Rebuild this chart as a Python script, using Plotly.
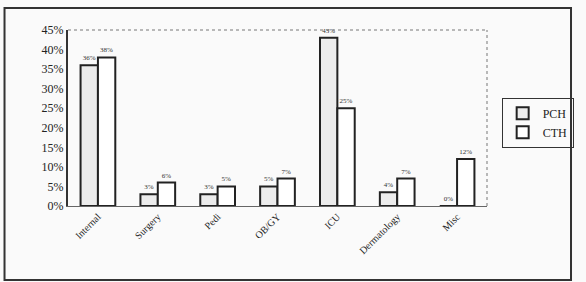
import plotly.graph_objects as go

categories = ["Internal", "Surgery", "Pedi", "OB/GY", "ICU", "Dermatology", "Misc"]
pch = [36, 3, 3, 5, 43, 3.5, 0]
cth = [38, 6, 5, 7, 25, 7, 12]
pch_labels = ["36%", "3%", "3%", "5%", "43%", "4%", "0%"]
cth_labels = ["38%", "6%", "5%", "7%", "25%", "7%", "12%"]
y_ticks = [0, 5, 10, 15, 20, 25, 30, 35, 40, 45]

serif = "Liberation Serif"

fig = go.Figure()
fig.add_bar(name="PCH", x=categories, y=pch, text=pch_labels, textposition="outside",
            cliponaxis=False,
            textfont=dict(size=7, family=serif, color="#333"),
            marker=dict(color="#ececec", line=dict(color="#222", width=2)))
fig.add_bar(name="CTH", x=categories, y=cth, text=cth_labels, textposition="outside",
            cliponaxis=False,
            textfont=dict(size=7, family=serif, color="#333"),
            marker=dict(color="white", line=dict(color="#222", width=2)))

fig.update_layout(
    width=586, height=282,
    margin=dict(l=68, r=89, t=30, b=76),
    paper_bgcolor="#fafafa", plot_bgcolor="#fafafa",
    barmode="group", bargap=0.42, bargroupgap=0.0,
    font=dict(family=serif, color="#222"),
    showlegend=True,
    legend=dict(x=1.035, y=0.615, xanchor="left", yanchor="top",
                bordercolor="#333", borderwidth=1, bgcolor="rgba(0,0,0,0)",
                font=dict(size=12, family=serif), itemsizing="constant",
                itemwidth=30, tracegroupgap=0),
    xaxis=dict(tickangle=-45, tickfont=dict(size=10, family=serif),
               showline=True, linecolor="#666", linewidth=1, mirror=False,
               ticks=""),
    yaxis=dict(range=[0, 45], tickvals=y_ticks,
               ticktext=[f"{v}%" for v in y_ticks],
               tickfont=dict(size=12, family=serif),
               showgrid=False, zeroline=False, showline=True,
               linecolor="#333", linewidth=2, ticks=""),
    uniformtext=dict(minsize=6, mode="show"),
)

# dashed frame on top/right of plot area
fig.add_shape(type="line", xref="paper", yref="paper", x0=0, x1=1, y0=1, y1=1,
              line=dict(color="#777", width=1, dash="dot"))
fig.add_shape(type="line", xref="paper", yref="paper", x0=1, x1=1, y0=0, y1=1,
              line=dict(color="#777", width=1, dash="dot"))
# outer border
fig.add_shape(type="rect", xref="paper", yref="paper", x0=-0.1515, x1=1.2005,
              y0=-0.42, y1=1.125, line=dict(color="#333", width=2))

fig.write_html("out.html")
